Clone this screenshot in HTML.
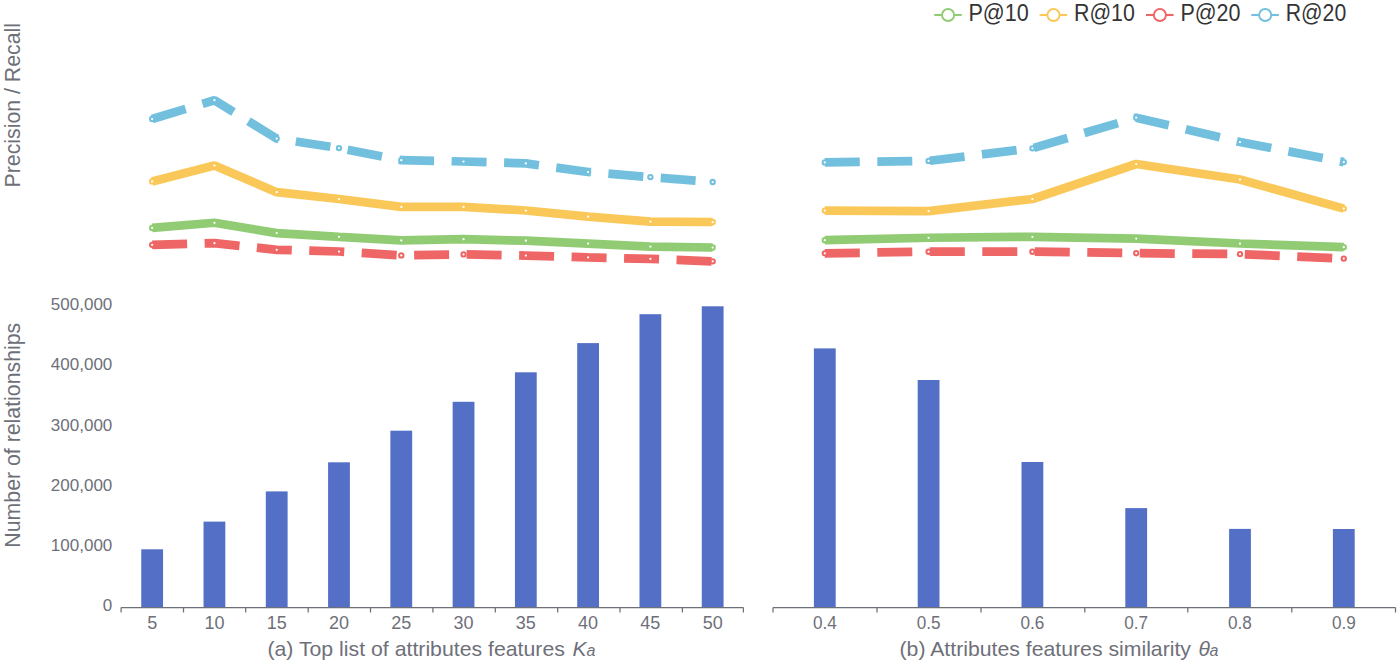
<!DOCTYPE html>
<html><head><meta charset="utf-8"><style>
html,body{margin:0;padding:0;background:#fff;}
body{width:1400px;height:664px;overflow:hidden;}
svg{display:block;font-family:"Liberation Sans",sans-serif;}
</style></head><body>
<svg width="1400" height="664" viewBox="0 0 1400 664">
<rect width="1400" height="664" fill="#fff"/>

<rect x="141.25" y="549.30" width="21.8" height="58.20" fill="#5470c6"/>
<rect x="203.53" y="521.60" width="21.8" height="85.90" fill="#5470c6"/>
<rect x="265.81" y="491.40" width="21.8" height="116.10" fill="#5470c6"/>
<rect x="328.09" y="462.30" width="21.8" height="145.20" fill="#5470c6"/>
<rect x="390.37" y="430.70" width="21.8" height="176.80" fill="#5470c6"/>
<rect x="452.65" y="401.80" width="21.8" height="205.70" fill="#5470c6"/>
<rect x="514.93" y="372.30" width="21.8" height="235.20" fill="#5470c6"/>
<rect x="577.21" y="343.10" width="21.8" height="264.40" fill="#5470c6"/>
<rect x="639.49" y="314.20" width="21.8" height="293.30" fill="#5470c6"/>
<rect x="701.77" y="306.30" width="21.8" height="301.20" fill="#5470c6"/>
<rect x="813.90" y="348.40" width="21.8" height="259.10" fill="#5470c6"/>
<rect x="917.70" y="380.00" width="21.8" height="227.50" fill="#5470c6"/>
<rect x="1021.50" y="462.00" width="21.8" height="145.50" fill="#5470c6"/>
<rect x="1125.30" y="508.10" width="21.8" height="99.40" fill="#5470c6"/>
<rect x="1229.10" y="528.90" width="21.8" height="78.60" fill="#5470c6"/>
<rect x="1332.90" y="529.00" width="21.8" height="78.50" fill="#5470c6"/>
<path d="M121.10 607.5H743.40M121.10 607.5V612.60M183.50 607.5V612.60M245.70 607.5V612.60M308.20 607.5V612.60M370.50 607.5V612.60M432.90 607.5V612.60M495.30 607.5V612.60M557.70 607.5V612.60M620.00 607.5V612.60M682.40 607.5V612.60M743.40 607.5V612.60" stroke="#6e7079" stroke-width="1.25" fill="none"/>
<path d="M773.00 607.5H1395.50M773.00 607.5V612.60M877.00 607.5V612.60M981.00 607.5V612.60M1084.80 607.5V612.60M1187.80 607.5V612.60M1291.80 607.5V612.60M1395.50 607.5V612.60" stroke="#6e7079" stroke-width="1.25" fill="none"/>
<g fill="#6e7079" font-size="18" text-anchor="middle">
<text x="152.15" y="629">5</text>
<text x="214.43" y="629">10</text>
<text x="276.71" y="629">15</text>
<text x="338.99" y="629">20</text>
<text x="401.27" y="629">25</text>
<text x="463.55" y="629">30</text>
<text x="525.83" y="629">35</text>
<text x="588.11" y="629">40</text>
<text x="650.39" y="629">45</text>
<text x="712.67" y="629">50</text>
<text x="812.90" y="629" text-anchor="start" textLength="23.8" lengthAdjust="spacingAndGlyphs">0.4</text>
<text x="916.70" y="629" text-anchor="start" textLength="23.8" lengthAdjust="spacingAndGlyphs">0.5</text>
<text x="1020.50" y="629" text-anchor="start" textLength="23.8" lengthAdjust="spacingAndGlyphs">0.6</text>
<text x="1124.30" y="629" text-anchor="start" textLength="23.8" lengthAdjust="spacingAndGlyphs">0.7</text>
<text x="1228.10" y="629" text-anchor="start" textLength="23.8" lengthAdjust="spacingAndGlyphs">0.8</text>
<text x="1331.90" y="629" text-anchor="start" textLength="23.8" lengthAdjust="spacingAndGlyphs">0.9</text>
</g>
<g fill="#6e7079" font-size="17" text-anchor="end">
<text x="112.3" y="310.00">500,000</text>
<text x="112.3" y="370.25">400,000</text>
<text x="112.3" y="430.50">300,000</text>
<text x="112.3" y="490.75">200,000</text>
<text x="112.3" y="551.00">100,000</text>
<text x="112.3" y="611.25">0</text>
</g>
<text transform="translate(20 105.25) rotate(-90)" text-anchor="middle" font-size="21.3" fill="#6e7079">Precision / Recall</text>
<text transform="translate(20 435.2) rotate(-90)" text-anchor="middle" font-size="21.3" fill="#6e7079">Number of relationships</text>
<g font-size="21" fill="#6e7079">
<text x="267.4" y="655.6" textLength="297.5" lengthAdjust="spacingAndGlyphs">(a) Top list of attributes features</text>
<text x="572.6" y="655.6" font-style="italic">K</text>
<text x="586.6" y="655.6" font-style="italic" font-size="16">a</text>
<text x="899.5" y="655.6" textLength="291.5" lengthAdjust="spacingAndGlyphs">(b) Attributes features similarity</text>
<text x="1198.4" y="655.6" font-style="italic">θ</text>
<text x="1209.4" y="655.6" font-style="italic" font-size="16">a</text>
</g>
<polyline points="152.15,227.90 214.43,222.75 276.71,233.10 338.99,236.80 401.27,240.40 463.55,239.20 525.83,240.70 588.11,243.60 650.39,246.60 712.67,247.50" fill="none" stroke="#91cc75" stroke-width="8.75" stroke-linejoin="bevel"/>
<polyline points="824.80,240.20 928.60,237.75 1032.40,236.80 1136.20,238.60 1240.00,243.50 1343.80,247.20" fill="none" stroke="#91cc75" stroke-width="8.75" stroke-linejoin="bevel"/>
<polyline points="152.15,181.40 214.43,165.60 276.71,192.20 338.99,199.00 401.27,206.90 463.55,206.90 525.83,210.50 588.11,216.70 650.39,221.60 712.67,222.00" fill="none" stroke="#fac858" stroke-width="8.75" stroke-linejoin="bevel"/>
<polyline points="824.80,210.60 928.60,211.20 1032.40,199.00 1136.20,164.00 1240.00,179.50 1343.80,208.60" fill="none" stroke="#fac858" stroke-width="8.75" stroke-linejoin="bevel"/>
<polyline points="152.15,244.85 214.43,243.15 276.71,249.80 338.99,251.50 401.27,255.40 463.55,254.40 525.83,255.60 588.11,257.40 650.39,258.90 712.67,261.30" fill="none" stroke="#ee6666" stroke-width="8.75" stroke-linejoin="bevel" stroke-dasharray="35 17.5"/>
<polyline points="824.80,253.30 928.60,251.70 1032.40,251.70 1136.20,253.20 1240.00,254.10 1343.80,258.60" fill="none" stroke="#ee6666" stroke-width="8.75" stroke-linejoin="bevel" stroke-dasharray="35 17.5"/>
<polyline points="152.15,119.00 214.43,100.20 276.71,138.60 338.99,148.10 401.27,160.20 463.55,161.50 525.83,163.40 588.11,172.00 650.39,177.10 712.67,182.00" fill="none" stroke="#73c0de" stroke-width="8.75" stroke-linejoin="bevel" stroke-dasharray="35 17.5"/>
<polyline points="824.80,162.40 928.60,160.90 1032.40,148.30 1136.20,117.70 1240.00,142.00 1343.80,162.10" fill="none" stroke="#73c0de" stroke-width="8.75" stroke-linejoin="bevel" stroke-dasharray="35 17.5"/>
<circle cx="152.15" cy="227.90" r="2.15" fill="#fff" stroke="#91cc75" stroke-width="2.05"/>
<circle cx="214.43" cy="222.75" r="2.15" fill="#fff" stroke="#91cc75" stroke-width="2.05"/>
<circle cx="276.71" cy="233.10" r="2.15" fill="#fff" stroke="#91cc75" stroke-width="2.05"/>
<circle cx="338.99" cy="236.80" r="2.15" fill="#fff" stroke="#91cc75" stroke-width="2.05"/>
<circle cx="401.27" cy="240.40" r="2.15" fill="#fff" stroke="#91cc75" stroke-width="2.05"/>
<circle cx="463.55" cy="239.20" r="2.15" fill="#fff" stroke="#91cc75" stroke-width="2.05"/>
<circle cx="525.83" cy="240.70" r="2.15" fill="#fff" stroke="#91cc75" stroke-width="2.05"/>
<circle cx="588.11" cy="243.60" r="2.15" fill="#fff" stroke="#91cc75" stroke-width="2.05"/>
<circle cx="650.39" cy="246.60" r="2.15" fill="#fff" stroke="#91cc75" stroke-width="2.05"/>
<circle cx="712.67" cy="247.50" r="2.15" fill="#fff" stroke="#91cc75" stroke-width="2.05"/>
<circle cx="824.80" cy="240.20" r="2.15" fill="#fff" stroke="#91cc75" stroke-width="2.05"/>
<circle cx="928.60" cy="237.75" r="2.15" fill="#fff" stroke="#91cc75" stroke-width="2.05"/>
<circle cx="1032.40" cy="236.80" r="2.15" fill="#fff" stroke="#91cc75" stroke-width="2.05"/>
<circle cx="1136.20" cy="238.60" r="2.15" fill="#fff" stroke="#91cc75" stroke-width="2.05"/>
<circle cx="1240.00" cy="243.50" r="2.15" fill="#fff" stroke="#91cc75" stroke-width="2.05"/>
<circle cx="1343.80" cy="247.20" r="2.15" fill="#fff" stroke="#91cc75" stroke-width="2.05"/>
<circle cx="152.15" cy="181.40" r="2.15" fill="#fff" stroke="#fac858" stroke-width="2.05"/>
<circle cx="214.43" cy="165.60" r="2.15" fill="#fff" stroke="#fac858" stroke-width="2.05"/>
<circle cx="276.71" cy="192.20" r="2.15" fill="#fff" stroke="#fac858" stroke-width="2.05"/>
<circle cx="338.99" cy="199.00" r="2.15" fill="#fff" stroke="#fac858" stroke-width="2.05"/>
<circle cx="401.27" cy="206.90" r="2.15" fill="#fff" stroke="#fac858" stroke-width="2.05"/>
<circle cx="463.55" cy="206.90" r="2.15" fill="#fff" stroke="#fac858" stroke-width="2.05"/>
<circle cx="525.83" cy="210.50" r="2.15" fill="#fff" stroke="#fac858" stroke-width="2.05"/>
<circle cx="588.11" cy="216.70" r="2.15" fill="#fff" stroke="#fac858" stroke-width="2.05"/>
<circle cx="650.39" cy="221.60" r="2.15" fill="#fff" stroke="#fac858" stroke-width="2.05"/>
<circle cx="712.67" cy="222.00" r="2.15" fill="#fff" stroke="#fac858" stroke-width="2.05"/>
<circle cx="824.80" cy="210.60" r="2.15" fill="#fff" stroke="#fac858" stroke-width="2.05"/>
<circle cx="928.60" cy="211.20" r="2.15" fill="#fff" stroke="#fac858" stroke-width="2.05"/>
<circle cx="1032.40" cy="199.00" r="2.15" fill="#fff" stroke="#fac858" stroke-width="2.05"/>
<circle cx="1136.20" cy="164.00" r="2.15" fill="#fff" stroke="#fac858" stroke-width="2.05"/>
<circle cx="1240.00" cy="179.50" r="2.15" fill="#fff" stroke="#fac858" stroke-width="2.05"/>
<circle cx="1343.80" cy="208.60" r="2.15" fill="#fff" stroke="#fac858" stroke-width="2.05"/>
<circle cx="152.15" cy="244.85" r="2.15" fill="#fff" stroke="#ee6666" stroke-width="2.05"/>
<circle cx="214.43" cy="243.15" r="2.15" fill="#fff" stroke="#ee6666" stroke-width="2.05"/>
<circle cx="276.71" cy="249.80" r="2.15" fill="#fff" stroke="#ee6666" stroke-width="2.05"/>
<circle cx="338.99" cy="251.50" r="2.15" fill="#fff" stroke="#ee6666" stroke-width="2.05"/>
<circle cx="401.27" cy="255.40" r="2.15" fill="#fff" stroke="#ee6666" stroke-width="2.05"/>
<circle cx="463.55" cy="254.40" r="2.15" fill="#fff" stroke="#ee6666" stroke-width="2.05"/>
<circle cx="525.83" cy="255.60" r="2.15" fill="#fff" stroke="#ee6666" stroke-width="2.05"/>
<circle cx="588.11" cy="257.40" r="2.15" fill="#fff" stroke="#ee6666" stroke-width="2.05"/>
<circle cx="650.39" cy="258.90" r="2.15" fill="#fff" stroke="#ee6666" stroke-width="2.05"/>
<circle cx="712.67" cy="261.30" r="2.15" fill="#fff" stroke="#ee6666" stroke-width="2.05"/>
<circle cx="824.80" cy="253.30" r="2.15" fill="#fff" stroke="#ee6666" stroke-width="2.05"/>
<circle cx="928.60" cy="251.70" r="2.15" fill="#fff" stroke="#ee6666" stroke-width="2.05"/>
<circle cx="1032.40" cy="251.70" r="2.15" fill="#fff" stroke="#ee6666" stroke-width="2.05"/>
<circle cx="1136.20" cy="253.20" r="2.15" fill="#fff" stroke="#ee6666" stroke-width="2.05"/>
<circle cx="1240.00" cy="254.10" r="2.15" fill="#fff" stroke="#ee6666" stroke-width="2.05"/>
<circle cx="1343.80" cy="258.60" r="2.15" fill="#fff" stroke="#ee6666" stroke-width="2.05"/>
<circle cx="152.15" cy="119.00" r="2.15" fill="#fff" stroke="#73c0de" stroke-width="2.05"/>
<circle cx="214.43" cy="100.20" r="2.15" fill="#fff" stroke="#73c0de" stroke-width="2.05"/>
<circle cx="276.71" cy="138.60" r="2.15" fill="#fff" stroke="#73c0de" stroke-width="2.05"/>
<circle cx="338.99" cy="148.10" r="2.15" fill="#fff" stroke="#73c0de" stroke-width="2.05"/>
<circle cx="401.27" cy="160.20" r="2.15" fill="#fff" stroke="#73c0de" stroke-width="2.05"/>
<circle cx="463.55" cy="161.50" r="2.15" fill="#fff" stroke="#73c0de" stroke-width="2.05"/>
<circle cx="525.83" cy="163.40" r="2.15" fill="#fff" stroke="#73c0de" stroke-width="2.05"/>
<circle cx="588.11" cy="172.00" r="2.15" fill="#fff" stroke="#73c0de" stroke-width="2.05"/>
<circle cx="650.39" cy="177.10" r="2.15" fill="#fff" stroke="#73c0de" stroke-width="2.05"/>
<circle cx="712.67" cy="182.00" r="2.15" fill="#fff" stroke="#73c0de" stroke-width="2.05"/>
<circle cx="824.80" cy="162.40" r="2.15" fill="#fff" stroke="#73c0de" stroke-width="2.05"/>
<circle cx="928.60" cy="160.90" r="2.15" fill="#fff" stroke="#73c0de" stroke-width="2.05"/>
<circle cx="1032.40" cy="148.30" r="2.15" fill="#fff" stroke="#73c0de" stroke-width="2.05"/>
<circle cx="1136.20" cy="117.70" r="2.15" fill="#fff" stroke="#73c0de" stroke-width="2.05"/>
<circle cx="1240.00" cy="142.00" r="2.15" fill="#fff" stroke="#73c0de" stroke-width="2.05"/>
<circle cx="1343.80" cy="162.10" r="2.15" fill="#fff" stroke="#73c0de" stroke-width="2.05"/>
<path d="M934.20 15H961.80" stroke="#91cc75" stroke-width="2.1"/>
<circle cx="948.10" cy="15" r="6.05" fill="#fff" stroke="#91cc75" stroke-width="1.9"/>
<text x="968.4" y="20.8" font-size="23" fill="#333" textLength="60.3" lengthAdjust="spacingAndGlyphs">P@10</text>
<path d="M1039.60 15H1067.20" stroke="#fac858" stroke-width="2.1"/>
<circle cx="1053.50" cy="15" r="6.05" fill="#fff" stroke="#fac858" stroke-width="1.9"/>
<text x="1074.0" y="20.8" font-size="23" fill="#333" textLength="60.8" lengthAdjust="spacingAndGlyphs">R@10</text>
<path d="M1146.00 15H1173.60" stroke="#ee6666" stroke-width="2.1"/>
<circle cx="1159.90" cy="15" r="6.05" fill="#fff" stroke="#ee6666" stroke-width="1.9"/>
<text x="1180.4" y="20.8" font-size="23" fill="#333" textLength="60.1" lengthAdjust="spacingAndGlyphs">P@20</text>
<path d="M1251.30 15H1278.90" stroke="#73c0de" stroke-width="2.1"/>
<circle cx="1265.20" cy="15" r="6.05" fill="#fff" stroke="#73c0de" stroke-width="1.9"/>
<text x="1285.8000000000002" y="20.8" font-size="23" fill="#333" textLength="60.4" lengthAdjust="spacingAndGlyphs">R@20</text>
</svg>
</body></html>
